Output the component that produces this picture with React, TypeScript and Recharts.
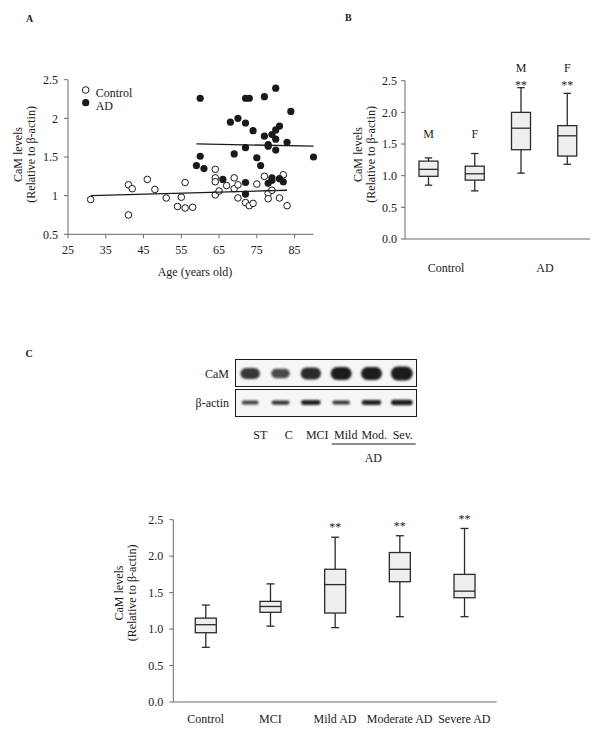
import React from "react";
import {
  ScatterChart,
  ComposedChart,
  Scatter,
  Bar,
  XAxis,
  YAxis,
  Legend,
} from "recharts";

const SERIF = "'Liberation Serif', 'Times New Roman', serif";
const INK = "#1a1a1a";
const AXIS = "#6b6b6b";
const BOX_FILL = "#eeeeee";

// ---- Panel A: CaM level vs age ----
const controlAge = [31, 41, 41, 42, 46, 48, 51, 54, 55, 56, 56, 58, 64, 64, 64, 64, 65, 67, 69, 69, 70, 70, 72, 73, 74, 75, 77, 78, 78, 79, 81, 82, 83];
const controlCaM = [0.95, 0.75, 1.14, 1.09, 1.21, 1.08, 0.97, 0.86, 0.98, 0.84, 1.17, 0.85, 1.34, 1.23, 1.18, 1.01, 1.06, 1.13, 1.23, 1.09, 1.14, 0.97, 0.91, 0.87, 0.9, 1.15, 1.25, 1.03, 0.96, 1.07, 0.97, 1.27, 0.87];
const adAge = [59, 60, 60, 61, 66, 68, 69, 70, 72, 72, 72, 72, 72, 73, 74, 75, 76, 77, 77, 78, 78, 78, 79, 79, 79, 80, 80, 80, 80, 81, 81, 82, 83, 84, 90];
const adCaM = [1.39, 2.26, 1.51, 1.35, 1.21, 1.95, 1.54, 2.0, 2.26, 1.94, 1.62, 1.17, 1.02, 2.26, 1.84, 1.49, 1.39, 2.28, 1.77, 1.66, 1.64, 1.16, 1.79, 1.23, 1.2, 2.39, 1.85, 1.73, 1.59, 1.9, 1.22, 1.18, 1.69, 2.09, 1.5];
// end points of the fitted lines
const controlFitAge = [31, 83];
const controlFitCaM = [1.0, 1.07];
const adFitAge = [59, 90];
const adFitCaM = [1.67, 1.64];
const ageTicks = [25, 35, 45, 55, 65, 75, 85];
const camTicksA = [0.5, 1, 1.5, 2, 2.5];
const legendNames = ["Control", "AD"];

// ---- Panel B: by sex ----
const sexGroup = ["Control", "Control", "AD", "AD"];
const sexTag = ["M", "F", "M", "F"];
const sexMin = [0.85, 0.76, 1.04, 1.18];
const sexQ1 = [0.99, 0.93, 1.41, 1.31];
const sexMedian = [1.1, 1.03, 1.75, 1.63];
const sexQ3 = [1.23, 1.15, 2.0, 1.79];
const sexMax = [1.28, 1.35, 2.39, 2.3];
const sexSig = ["", "", "**", "**"];
const groupNames = ["Control", "AD"];

// ---- Panel C: blot + by stage ----
const laneNames = ["ST", "C", "MCI", "Mild", "Mod.", "Sev."];
const proteins = ["CaM", "β-actin"];
const camBand = [0.7, 0.5, 0.85, 1.0, 1.0, 1.15];
const actinBand = [0.6, 0.75, 0.95, 0.7, 0.95, 1.2];

const stageNames = ["Control", "MCI", "Mild AD", "Moderate AD", "Severe AD"];
const stageMin = [0.75, 1.04, 1.02, 1.17, 1.17];
const stageQ1 = [0.95, 1.23, 1.22, 1.65, 1.43];
const stageMedian = [1.06, 1.31, 1.61, 1.82, 1.52];
const stageQ3 = [1.15, 1.38, 1.82, 2.05, 1.75];
const stageMax = [1.33, 1.62, 2.26, 2.28, 2.38];
const stageSig = ["", "", "**", "**", "**"];
const camTicks = [0, 0.5, 1, 1.5, 2, 2.5];

const pts = (xs: number[], ys: number[]) => xs.map((age, i) => ({ age, cam: ys[i] }));
const controlData = pts(controlAge, controlCaM);
const adData = pts(adAge, adCaM);
const controlFit = pts(controlFitAge, controlFitCaM);
const adFit = pts(adFitAge, adFitCaM);

const sexData = sexTag.map((tag, i) => {
  const groupTop = Math.max(...sexMax.filter((_, j) => sexGroup[j] === sexGroup[i]));
  return {
    key: sexGroup[i] + "-" + tag,
    tag,
    min: sexMin[i],
    q1: sexQ1[i],
    median: sexMedian[i],
    q3: sexQ3[i],
    max: sexMax[i],
    sig: sexSig[i],
    groupTop,
  };
});

const stageData = stageNames.map((name, i) => ({
  key: name,
  min: stageMin[i],
  q1: stageQ1[i],
  median: stageMedian[i],
  q3: stageQ3[i],
  max: stageMax[i],
  sig: stageSig[i],
}));

const blotData = [
  ...laneNames.map((lane, i) => ({ lane, protein: proteins[0], level: camBand[i] })),
  ...laneNames.map((lane, i) => ({ lane, protein: proteins[1], level: actinBand[i] })),
];
const laneData = laneNames.map((lane) => ({ lane, protein: proteins[0] }));

const tickStyle = { fill: INK, fontSize: 12, fontFamily: SERIF };

const OpenDot = (p: any) => (
  <circle cx={p.cx} cy={p.cy} r={3.3} fill="#fff" stroke={INK} strokeWidth={1} />
);
const FilledDot = (p: any) => <circle cx={p.cx} cy={p.cy} r={3.6} fill={INK} />;
const NoDot = () => <g />;

const LegendA = () => (
  <svg width={60} height={30} style={{ display: "block" }}>
    <circle cx={5.7} cy={6} r={3.3} fill="#fff" stroke={INK} strokeWidth={1} />
    <text x={15.7} y={13.3} fontSize={12} fontFamily={SERIF} fill={INK}>
      {legendNames[0]}
    </text>
    <circle cx={5.7} cy={18.7} r={3.6} fill={INK} />
    <text x={15.7} y={26} fontSize={12} fontFamily={SERIF} fill={INK}>
      {legendNames[1]}
    </text>
  </svg>
);

// box + whiskers drawn from a [min, max] range bar
const BoxShape = (props: any) => {
  const { x, y, width, height, capHalf, mode } = props;
  const d = props.payload || props;
  const top = Math.min(y, y + height);
  const k = Math.abs(height) / (d.max - d.min);
  const py = (v: number) => top + (d.max - v) * k;
  const cx = x + width / 2;
  return (
    <g>
      <g stroke="#2b2b2b" strokeWidth={1.3}>
        <line x1={cx} x2={cx} y1={py(d.max)} y2={py(d.q3)} />
        <line x1={cx} x2={cx} y1={py(d.q1)} y2={py(d.min)} />
        <line x1={cx - capHalf} x2={cx + capHalf} y1={py(d.max)} y2={py(d.max)} />
        <line x1={cx - capHalf} x2={cx + capHalf} y1={py(d.min)} y2={py(d.min)} />
        <rect x={x} y={py(d.q3)} width={width} height={py(d.q1) - py(d.q3)} fill={BOX_FILL} />
        <line x1={x} x2={x + width} y1={py(d.median)} y2={py(d.median)} />
      </g>
      {mode === "sex" && (
        <g fontFamily={SERIF} fontSize={12} fill={INK} textAnchor="middle">
          <text x={cx} y={py(d.groupTop) - 15.5} fill={INK}>{d.tag}</text>
          {d.sig && <text x={cx} y={py(d.groupTop) + 1.2} fill={INK}>{d.sig}</text>}
        </g>
      )}
      {mode === "stage" && d.sig && (
        <text x={cx} y={py(d.max) - 5.8} fontFamily={SERIF} fontSize={12} fill={INK} textAnchor="middle">
          {d.sig}
        </text>
      )}
    </g>
  );
};

const BandShape = (p: any) => {
  const d = p.payload || p;
  const isCaM = d.protein === proteins[0];
  const w = isCaM ? 16 + 5 * d.level : 12 + 8 * d.level;
  const h = isCaM ? 6 + 7 * d.level : 2 + 3 * d.level;
  return (
    <rect
      x={p.cx - w / 2}
      y={p.cy - h / 2}
      width={w}
      height={h}
      rx={h / 2}
      fill="#111"
      opacity={0.55 + 0.4 * Math.min(d.level, 1)}
      style={{ filter: "blur(0.8px)" }}
    />
  );
};

const YTitle = ({ x1, x2, cy }: { x1: number; x2: number; cy: number }) => (
  <g fontFamily={SERIF} fontSize={12} fill={INK} textAnchor="middle">
    <text transform={`translate(${x1},${cy}) rotate(-90)`}>CaM levels</text>
    <text transform={`translate(${x2},${cy}) rotate(-90)`}>(Relative to β-actin)</text>
  </g>
);

const frame = (top: number, height: number): React.CSSProperties => ({
  position: "absolute",
  left: 235,
  top,
  width: 182,
  height,
  border: `1.3px solid ${INK}`,
  boxSizing: "border-box",
  background: "#f6f6f6",
});

export default function App() {
  return (
    <div style={{ position: "absolute", left: 0, top: 0, width: 600, height: 745, background: "#fff", fontFamily: SERIF }}>
      {/* titles and panel letters */}
      <svg width={600} height={745} style={{ position: "absolute", left: 0, top: 0 }}>
        <g fontFamily={SERIF} fontSize={10} fontWeight="bold" fill={INK}>
          <text x={26} y={22}>A</text>
          <text x={345} y={21}>B</text>
          <text x={25.5} y={357}>C</text>
        </g>
        <YTitle x1={21.5} x2={34.5} cy={154.5} />
        <YTitle x1={361.5} x2={374.5} cy={154.5} />
        <YTitle x1={123} x2={136} cy={593} />
        <g fontFamily={SERIF} fontSize={12} fill={INK} textAnchor="middle">
          <text x={195} y={275.5}>Age (years old)</text>
          <text x={446} y={272}>{groupNames[0]}</text>
          <text x={545} y={272}>{groupNames[1]}</text>
          <text x={373.3} y={461.5}>AD</text>
        </g>
        <line x1={331.7} x2={415.7} y1={444} y2={444} stroke={INK} strokeWidth={1.2} />
      </svg>

      {/* A */}
      <div style={{ position: "absolute", left: 0, top: 0 }}>
        <ScatterChart width={330} height={300} margin={{ top: 79.7, right: 16.5, bottom: 35.7, left: 28 }}>
          <XAxis
            type="number"
            dataKey="age"
            domain={[25, 90]}
            ticks={ageTicks}
            height={30}
            tick={tickStyle}
            tickSize={4}
            tickMargin={7}
            axisLine={{ stroke: AXIS }}
            tickLine={{ stroke: AXIS }}
          />
          <YAxis
            type="number"
            dataKey="cam"
            domain={[0.5, 2.5]}
            ticks={camTicksA}
            width={40}
            tick={tickStyle}
            tickSize={4}
            tickMargin={6}
            axisLine={{ stroke: AXIS }}
            tickLine={{ stroke: AXIS }}
          />
          <Legend
            layout="horizontal"
            verticalAlign="middle"
            align="center"
            wrapperStyle={{ left: 80, top: 84, width: 60 }}
            content={() => <LegendA />}
          />
          <Scatter name="Control" data={controlData} shape={OpenDot} isAnimationActive={false} />
          <Scatter name="AD" data={adData} shape={FilledDot} isAnimationActive={false} />
          <Scatter data={controlFit} line={{ stroke: INK, strokeWidth: 1.3 }} shape={NoDot} legendType="none" isAnimationActive={false} />
          <Scatter data={adFit} line={{ stroke: INK, strokeWidth: 1.3 }} shape={NoDot} legendType="none" isAnimationActive={false} />
        </ScatterChart>
      </div>

      {/* B */}
      <div style={{ position: "absolute", left: 300, top: 0 }}>
        <ComposedChart width={300} height={300} data={sexData} margin={{ top: 80.7, right: 10, bottom: 41, left: 65 }}>
          <XAxis dataKey="key" type="category" tick={false} tickLine={false} height={20} axisLine={{ stroke: AXIS }} />
          <YAxis
            type="number"
            domain={[0, 2.5]}
            ticks={camTicks}
            tickFormatter={(v: number) => v.toFixed(1)}
            width={40}
            tick={tickStyle}
            tickSize={4}
            tickMargin={4}
            axisLine={{ stroke: AXIS }}
            tickLine={{ stroke: AXIS }}
          />
          <Bar
            dataKey={(d: any) => [d.min, d.max]}
            barSize={19}
            isAnimationActive={false}
            shape={(p: any) => <BoxShape {...p} capHalf={3.7} mode="sex" />}
          />
        </ComposedChart>
      </div>

      {/* C: western blot */}
      <div style={frame(359, 28)} />
      <div style={frame(389.3, 27.4)} />
      <div style={{ position: "absolute", left: 150, top: 350 }}>
        <ScatterChart width={280} height={100} margin={{ top: 9, right: 13, bottom: 8, left: 25 }}>
          <XAxis
            xAxisId="lane"
            dataKey="lane"
            type="category"
            allowDuplicatedCategory={false}
            padding={{ left: 11, right: 0 }}
            height={25}
            axisLine={false}
            tickLine={false}
            tickSize={0}
            tickMargin={13}
            tick={tickStyle}
            interval={0}
          />
          <XAxis xAxisId="band" dataKey="lane" type="category" allowDuplicatedCategory={false} height={0} hide />
          <YAxis
            dataKey="protein"
            type="category"
            allowDuplicatedCategory={false}
            reversed
            width={60}
            axisLine={false}
            tickLine={false}
            tickSize={0}
            tickMargin={6}
            tick={tickStyle}
          />
          <Scatter xAxisId="band" data={blotData} shape={BandShape} isAnimationActive={false} />
          <Scatter xAxisId="lane" data={laneData} shape={NoDot} isAnimationActive={false} />
        </ScatterChart>
      </div>

      {/* C: box plot by stage */}
      <div style={{ position: "absolute", left: 60, top: 470 }}>
        <ComposedChart width={460} height={275} data={stageData} margin={{ top: 49.7, right: 23.3, bottom: 13, left: 73.3 }}>
          <XAxis
            dataKey="key"
            type="category"
            height={30}
            tick={tickStyle}
            tickLine={false}
            tickSize={0}
            tickMargin={12}
            interval={0}
            axisLine={{ stroke: AXIS }}
          />
          <YAxis
            type="number"
            domain={[0, 2.5]}
            ticks={camTicks}
            tickFormatter={(v: number) => v.toFixed(1)}
            width={40}
            tick={tickStyle}
            tickSize={4}
            tickMargin={6}
            axisLine={{ stroke: AXIS }}
            tickLine={{ stroke: AXIS }}
          />
          <Bar
            dataKey={(d: any) => [d.min, d.max]}
            barSize={21}
            isAnimationActive={false}
            shape={(p: any) => <BoxShape {...p} capHalf={4} mode="stage" />}
          />
        </ComposedChart>
      </div>
    </div>
  );
}
